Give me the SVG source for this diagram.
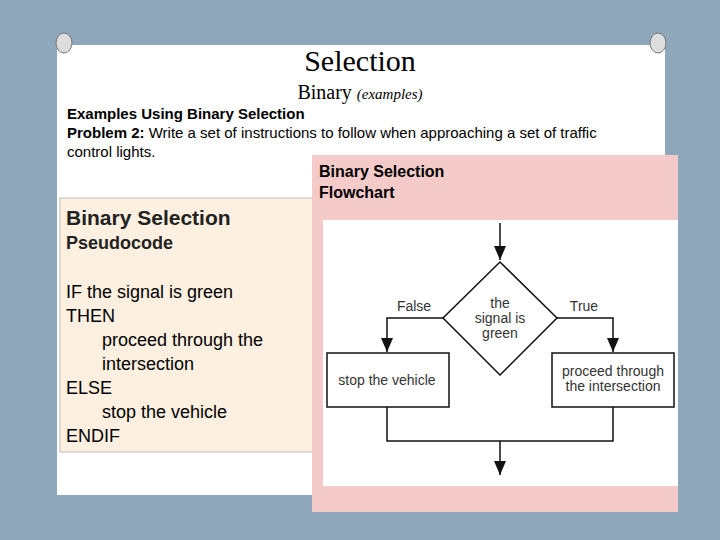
<svg xmlns="http://www.w3.org/2000/svg" width="720" height="540" viewBox="0 0 720 540">
<style>
.sans{font-family:"Liberation Sans",Arial,sans-serif}
.serif{font-family:"Liberation Serif","Times New Roman",serif}
.fc{font-family:"Liberation Sans",Arial,sans-serif;font-size:14px;fill:#333}
.ln{stroke:#111;stroke-width:1.5;fill:none}
</style>
<defs>
<marker id="dn" markerWidth="12" markerHeight="14" refX="6" refY="14" orient="0" markerUnits="userSpaceOnUse" viewBox="0 0 12 14"><path d="M0,0 L12,0 L6,14 Z" fill="#111"/></marker>
</defs>
<rect width="720" height="540" fill="#8fa7ba"/>
<rect x="57" y="45" width="608" height="450" fill="#ffffff"/>
<g id="pins">
<ellipse cx="64" cy="43" rx="8" ry="10" fill="#ddd" stroke="#777"/>
<ellipse cx="658" cy="43" rx="8" ry="10" fill="#ddd" stroke="#777"/>
</g>
<g id="title">
<text x="360" y="71" text-anchor="middle" class="serif" font-size="30">Selection</text>
<text x="360" y="99" text-anchor="middle" class="serif" font-size="20">Binary <tspan font-style="italic" font-size="15">(examples)</tspan></text>
</g>
<g id="problem" class="sans" font-size="15">
<text x="67" y="119" font-weight="bold">Examples Using Binary Selection</text>
<text x="67" y="138"><tspan font-weight="bold">Problem 2:</tspan> Write a set of instructions to follow when approaching a set of traffic</text>
<text x="67" y="157">control lights.</text>
</g>
<g id="pseudo">
<rect x="60" y="198" width="272" height="254" fill="#fdf0e0" stroke="#bbb"/>
<text x="66" y="225" class="sans" font-size="21" font-weight="bold" fill="#222">Binary Selection</text>
<text x="66" y="249" class="sans" font-size="18" font-weight="bold" fill="#222">Pseudocode</text>
<g class="sans" font-size="18">
<text x="66" y="298">IF the signal is green</text>
<text x="66" y="322">THEN</text>
<text x="102" y="346">proceed through the</text>
<text x="102" y="370">intersection</text>
<text x="66" y="394">ELSE</text>
<text x="102" y="418">stop the vehicle</text>
<text x="66" y="442">ENDIF</text>
</g>
</g>
<g id="flowpanel">
<rect x="312" y="155" width="366" height="357" fill="#f4cbc8"/>
<rect x="323" y="220" width="355" height="266" fill="#ffffff"/>
<text x="319" y="177" class="sans" font-size="16" font-weight="bold">Binary Selection</text>
<text x="319" y="198" class="sans" font-size="16" font-weight="bold">Flowchart</text>
</g>
<g id="connectors">
<path class="ln" d="M500,223 V260" marker-end="url(#dn)"/>
<path class="ln" d="M443,318 H387 V352" marker-end="url(#dn)"/>
<path class="ln" d="M557,318 H613 V352" marker-end="url(#dn)" stroke-width="2.5"/>
<path class="ln" d="M387,407 V441 H613 V407"/>
<path class="ln" d="M500,441 V475" marker-end="url(#dn)"/>
</g>
<g id="decision">
<path d="M500,262 L557,318 L500,375 L443,318 Z" class="ln"/>
<text x="500" y="308" text-anchor="middle" class="fc">the</text>
<text x="500" y="323" text-anchor="middle" class="fc">signal is</text>
<text x="500" y="338" text-anchor="middle" class="fc">green</text>
</g>
<g id="labels">
<text x="414" y="311" text-anchor="middle" class="fc">False</text>
<text x="584" y="311" text-anchor="middle" class="fc">True</text>
</g>
<g id="stop">
<rect x="327" y="353" width="122" height="54" class="ln" fill="#fff"/>
<text x="387" y="385" text-anchor="middle" class="fc">stop the vehicle</text>
</g>
<g id="proceed">
<rect x="552" y="353" width="122" height="54" class="ln" fill="#fff"/>
<text x="613" y="376" text-anchor="middle" class="fc" font-size="13">proceed through</text>
<text x="613" y="391" text-anchor="middle" class="fc" font-size="13">the intersection</text>
</g>
</svg>
